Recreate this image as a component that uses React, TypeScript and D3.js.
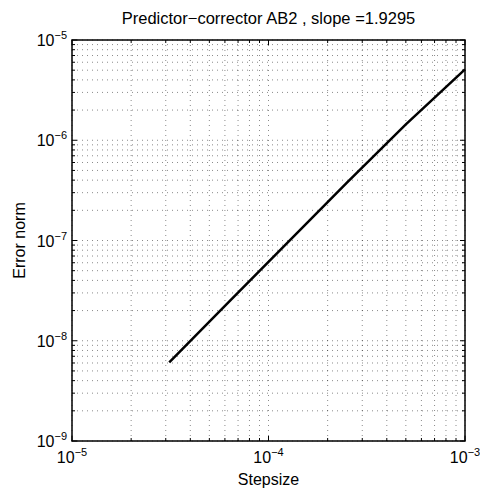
import React from 'react';
import * as d3 from 'd3';

// step sizes (halving) and measured error norms
const stepsizes = [3.125e-5, 6.25e-5, 1.25e-4, 2.5e-4, 5e-4, 1e-3];
const errors = [6.1e-9, 2.42e-8, 9.5e-8, 3.75e-7, 1.44e-6, 5.1e-6];

const xTicks = [1e-5, 1e-4, 1e-3];
const xTickExp = ['−5', '−4', '−3'];
const yTicks = [1e-9, 1e-8, 1e-7, 1e-6, 1e-5];
const yTickExp = ['−9', '−8', '−7', '−6', '−5'];

const title = 'Predictor−corrector AB2 , slope =1.9295';
const xLabel = 'Stepsize';
const yLabel = 'Error norm';

const W = 480;
const H = 491;
const left = 72;
const right = 465;
const top = 40;
const bottom = 441;
const font = 'Liberation Sans, Arial, Helvetica, sans-serif';

// minor tick values (2..9 x each decade) inside a domain
function minors(lo: number, hi: number) {
  const out: number[] = [];
  for (let e = Math.floor(Math.log10(lo)); e < Math.ceil(Math.log10(hi)); e++) {
    for (let k = 2; k <= 9; k++) {
      const v = k * Math.pow(10, e);
      if (v > lo && v < hi) out.push(v);
    }
  }
  return out;
}

const App = () => {
  const x = d3.scaleLog().domain([1e-5, 1e-3]).range([left, right]);
  const y = d3.scaleLog().domain([1e-9, 1e-5]).range([bottom, top]);

  const xMinor = minors(1e-5, 1e-3);
  const yMinor = minors(1e-9, 1e-5);

  const line = d3.line<number>()
    .x((_, i) => x(stepsizes[i]))
    .y(d => y(d));

  const grid = { stroke: '#000', strokeWidth: 1, strokeDasharray: '1 4', opacity: 0.45 };

  return (
    <div style={{ position: 'fixed', left: 0, top: 0 }}>
      <svg width={W} height={H} style={{ display: 'block', background: '#fff' }}>
        {/* grid lines */}
        {[...xTicks, ...xMinor].map((v, i) => (
          <line key={'gx' + i} x1={x(v)} x2={x(v)} y1={top} y2={bottom} {...grid} />
        ))}
        {[...yTicks, ...yMinor].map((v, i) => (
          <line key={'gy' + i} y1={y(v)} y2={y(v)} x1={left} x2={right} {...grid} />
        ))}

        {/* ticks, inward on all four sides */}
        <g stroke="#000" strokeWidth={1}>
          {xTicks.map((v, i) => (
            <g key={'tx' + i}>
              <line x1={x(v)} x2={x(v)} y1={bottom} y2={bottom - 5} />
              <line x1={x(v)} x2={x(v)} y1={top} y2={top + 5} />
            </g>
          ))}
          {xMinor.map((v, i) => (
            <g key={'mx' + i}>
              <line x1={x(v)} x2={x(v)} y1={bottom} y2={bottom - 3} />
              <line x1={x(v)} x2={x(v)} y1={top} y2={top + 3} />
            </g>
          ))}
          {yTicks.map((v, i) => (
            <g key={'ty' + i}>
              <line x1={left} x2={left + 5} y1={y(v)} y2={y(v)} />
              <line x1={right} x2={right - 5} y1={y(v)} y2={y(v)} />
            </g>
          ))}
          {yMinor.map((v, i) => (
            <g key={'my' + i}>
              <line x1={left} x2={left + 3} y1={y(v)} y2={y(v)} />
              <line x1={right} x2={right - 3} y1={y(v)} y2={y(v)} />
            </g>
          ))}
        </g>

        {/* data */}
        <path d={line(errors) || ''} fill="none" stroke="#000" strokeWidth={2.5} />

        {/* box */}
        <rect x={left} y={top} width={right - left} height={bottom - top}
          fill="none" stroke="#000" strokeWidth={1.5} />

        {/* tick labels */}
        <g fontFamily={font} fill="#000">
          {xTicks.map((v, i) => (
            <text key={'lx' + i} x={x(v)} y={bottom + 22} textAnchor="middle" fontSize={16}>
              10<tspan fontSize={11} dy={-7}>{xTickExp[i]}</tspan>
            </text>
          ))}
          {yTicks.map((v, i) => (
            <text key={'ly' + i} x={left - 5} y={y(v) + 6} textAnchor="end" fontSize={16}>
              10<tspan fontSize={11} dy={-7}>{yTickExp[i]}</tspan>
            </text>
          ))}
        </g>

        {/* labels */}
        <text x={(left + right) / 2} y={24} textAnchor="middle" fontFamily={font} fontSize={16.5}>
          {title}
        </text>
        <text x={(left + right) / 2} y={485} textAnchor="middle" fontFamily={font} fontSize={16}>
          {xLabel}
        </text>
        <text transform={`translate(25,${(top + bottom) / 2}) rotate(-90)`} textAnchor="middle"
          fontFamily={font} fontSize={16}>
          {yLabel}
        </text>
      </svg>
    </div>
  );
};

export default App;
